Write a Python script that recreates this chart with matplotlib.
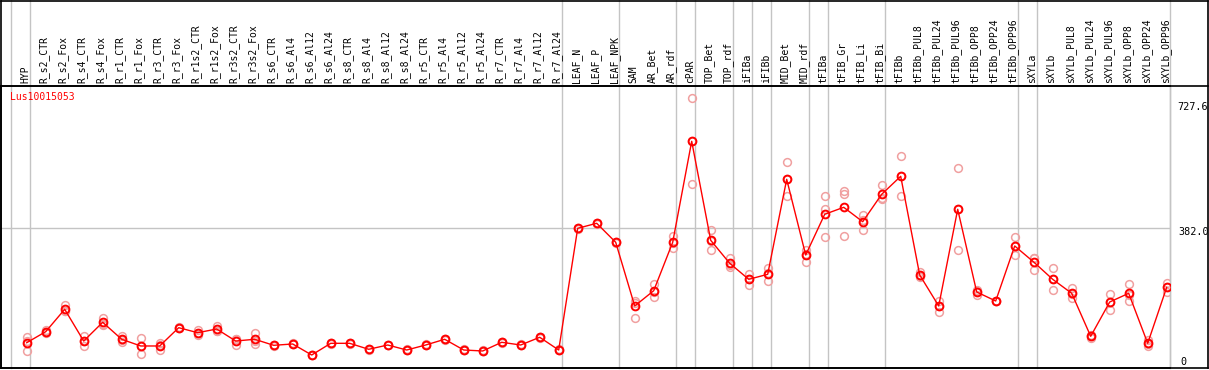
import matplotlib
matplotlib.use("Agg")
import matplotlib.pyplot as plt
from matplotlib.lines import Line2D
import matplotlib.transforms as mtransforms

gene = "Lus10015053"

samples = ["HYP", "R_s2_CTR", "R_s2_Fox", "R_s4_CTR", "R_s4_Fox", "R_r1_CTR", "R_r1_Fox",
           "R_r3_CTR", "R_r3_Fox", "R_r1s2_CTR", "R_r1s2_Fox", "R_r3s2_CTR", "R_r3s2_Fox",
           "R_s6_CTR", "R_s6_Al4", "R_s6_Al12", "R_s6_Al24", "R_s8_CTR", "R_s8_Al4",
           "R_s8_Al12", "R_s8_Al24", "R_r5_CTR", "R_r5_Al4", "R_r5_Al12", "R_r5_Al24",
           "R_r7_CTR", "R_r7_Al4", "R_r7_Al12", "R_r7_Al24", "LEAF_N", "LEAF_P", "LEAF_NPK",
           "SAM", "AR_Bet", "AR_rdf", "cPAR", "TOP_Bet", "TOP_rdf", "iFIBa", "iFIBb",
           "MID_Bet", "MID_rdf", "tFIBa", "tFIB_Gr", "tFIB_Li", "tFIB_Bi", "tFIBb",
           "tFIBb_PUL8", "tFIBb_PUL24", "tFIBb_PUL96", "tFIBb_OPP8", "tFIBb_OPP24",
           "tFIBb_OPP96", "sXYLa", "sXYLb", "sXYLb_PUL8", "sXYLb_PUL24", "sXYLb_PUL96",
           "sXYLb_OPP8", "sXYLb_OPP24", "sXYLb_OPP96"]

mean_values = [77.9, 107.2, 166.7, 82.4, 132.1, 87.0, 69.2, 69.2, 117.8, 104.5, 114.3, 82.4, 87.0,
               71.0, 74.5, 45.2, 76.3, 76.3, 60.4, 71.8, 58.5, 71.8, 87.0, 58.5, 55.9,
               79.0, 71.8, 92.3, 58.5, 382.0, 395.3, 344.8,
               175.5, 216.1, 344.8, 613.2, 350.1, 289.0, 246.4, 259.7,
               512.2, 311.0, 419.2, 437.8, 399.5, 472.4, 520.2,
               257.9, 175.5, 432.5, 212.7, 188.8, 335.0,
               292.4, 246.4, 209.2, 94.9, 186.1, 209.2, 76.3, 225.2]

rep1 = [93.9, 111.7, 178.1, 95.7, 142.8, 95.7, 89.6, 77.9, 120.0, 111.7, 123.1, 87.0, 104.5,
        72.5, 76.0, 46.5, 77.8, 77.5, 61.8, 73.0, 60.0, 73.2, 88.4, 60.0, 57.4,
        80.5, 73.2, 93.8, 60.0, 384.0, 397.3, 346.8,
        189.6, 233.9, 361.5, 727.6, 377.5, 303.9, 260.5, 275.7,
        557.4, 324.3, 467.1, 481.9, 417.4, 496.3, 573.4,
        266.6, 189.6, 541.5, 218.0, 190.0, 358.1,
        303.9, 275.7, 224.1, 89.6, 206.6, 233.2, 85.1, 237.4]

rep2 = [83.2, 102.9, 161.0, 82.4, 128.5, 84.7, 70.0, 71.2, 117.0, 103.4, 110.0, 88.4, 82.8,
        70.0, 73.5, 44.0, 75.0, 75.5, 59.2, 70.5, 57.2, 70.6, 86.0, 57.3, 54.6,
        77.8, 70.6, 91.0, 57.3, 380.5, 393.6, 343.0,
        184.2, 214.0, 344.0, 613.2, 349.0, 285.0, 248.0, 262.0,
        512.0, 315.0, 433.3, 473.2, 403.0, 459.0, 520.0,
        255.0, 176.0, 432.0, 215.0, 188.0, 336.0,
        303.0, 246.0, 208.0, 97.0, 187.0, 206.0, 75.0, 225.0]

rep3 = [56.7, 107.0, 161.0, 69.2, 125.0, 80.6, 47.9, 58.5, 116.0, 98.4, 109.8, 71.8, 73.7,
        70.5, 74.0, 45.0, 76.0, 76.0, 60.0, 72.0, 58.3, 71.6, 86.6, 58.2, 55.7,
        78.7, 71.6, 92.1, 58.2, 381.5, 395.0, 344.6,
        142.8, 200.2, 328.9, 499.0, 323.5, 278.3, 230.5, 241.1,
        467.1, 293.2, 358.1, 361.5, 377.5, 461.7, 467.1,
        251.8, 160.3, 323.5, 204.7, 188.5, 311.0,
        270.4, 218.0, 195.9, 98.0, 164.8, 188.0, 69.2, 213.5]

separators_after = [0, 1, 29, 32, 35, 36, 38, 39, 40, 42, 43, 46, 53, 54]
gridline_value = 382.0
top_label, mid_label, bottom_label = "727.6", "382.0", "0"

W, H = 1209, 370
fig = plt.figure(figsize=(W / 100, H / 100), dpi=100)

ax_left, ax_right = 0.5, 1170.0
ax_top, ax_bottom = 85.7, 367.5
ax = fig.add_axes([ax_left / W, 1 - ax_bottom / H, (ax_right - ax_left) / W, (ax_bottom - ax_top) / H])

px_per_col = 19.0
x0 = 7.7
ax.set_xlim((ax_left - x0) / px_per_col, (ax_right - x0) / px_per_col)
ax.set_ylim(12.0, 761.0)
ax.set_xticks([])
ax.set_yticks([])

grey = "#c4c4c4"
for s in ["left", "bottom", "top"]:
    ax.spines[s].set_color("black")
    ax.spines[s].set_linewidth(1.2)
ax.spines["right"].set_color(grey)
ax.spines["right"].set_linewidth(1.0)

xs = list(range(1, len(samples) + 1))

ax.axhline(gridline_value, color=grey, lw=1.0, zorder=1)
ext = ax_bottom / (ax_bottom - ax_top)
for c in separators_after:
    ax.axvline(c + 3.6 / px_per_col, ymin=0, ymax=ext, color=grey, lw=1.0, clip_on=False, zorder=1)
ax.axvline((ax_right - x0) / px_per_col, ymin=0, ymax=ext, color=grey, lw=1.0, clip_on=False, zorder=1)

pink = "#f0a0a0"
for rep in (rep1, rep2, rep3):
    ax.plot(xs, rep, ls="none", marker="o", ms=5.6, mfc="none", mec=pink, mew=1.1, zorder=2)

ax.plot(xs, mean_values, color="#ff0000", lw=1.0, marker="o", ms=5.6, mfc="none",
        mec="#ff0000", mew=1.4, zorder=3)

mono = "DejaVu Sans Mono"
trans = mtransforms.blended_transform_factory(ax.transData, ax.transAxes)
off = mtransforms.offset_copy(trans, fig=fig, x=-1.5, y=2.5, units="dots")
for x, lab in zip(xs, samples):
    ax.text(x, 1.0, lab, transform=off, rotation=90, ha="center", va="bottom",
            fontsize=7.0, family=mono, color="black", clip_on=False)

fig.text(10 / W, 1 - 97 / H, gene, color="#ff0000", fontsize=7.0, family=mono, ha="left", va="center")
fig.text(1177 / W, 1 - 107 / H, top_label, fontsize=7.3, family=mono, ha="left", va="center")
fig.text(1178 / W, 1 - 232 / H, mid_label, fontsize=7.3, family=mono, ha="left", va="center")
fig.text(1180 / W, 1 - 362 / H, bottom_label, fontsize=7.3, family=mono, ha="left", va="center")

def fline(xa, ya, xb, yb, color="black", lw=1.2):
    fig.add_artist(Line2D([xa / W, xb / W], [1 - ya / H, 1 - yb / H], color=color, lw=lw))

fline(0.5, 0.6, 1207.5, 0.6)
fline(1207.5, 0.6, 1207.5, 367.5)
fline(0.5, 0.6, 0.5, 367.5)
fline(0.5, 367.5, 1207.5, 367.5)
fline(0.5, 85.7, 1207.5, 85.7)

fig.savefig("out.png", dpi=100)
